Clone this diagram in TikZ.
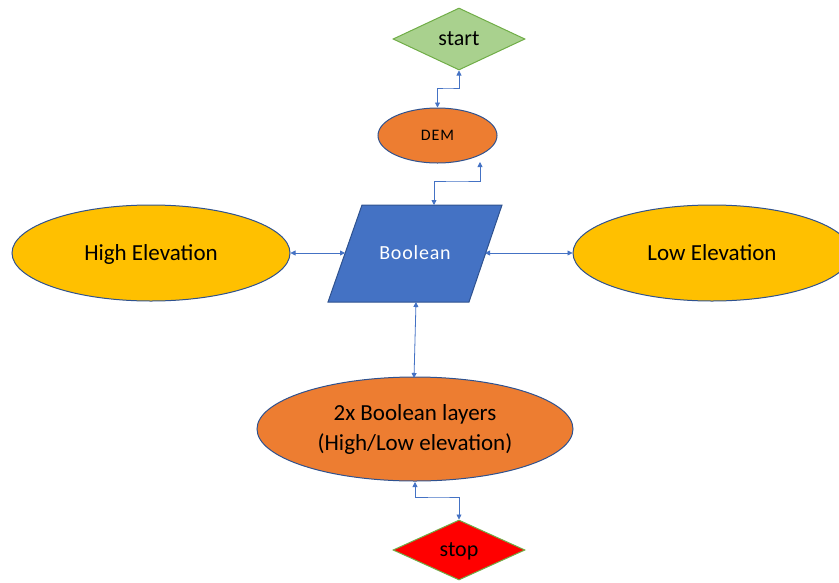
\documentclass[tikz,border=0pt]{standalone}
\usepackage{fontspec}
\setmainfont{Carlito}
\usetikzlibrary{shapes.geometric,arrows.meta}
\definecolor{linkblue}{HTML}{4472C4}
\definecolor{edgeblue}{HTML}{2F528F}
\definecolor{orangefill}{HTML}{ED7D31}
\definecolor{goldfill}{HTML}{FFC000}
\definecolor{lightgreen}{HTML}{A9D18E}
\definecolor{greenedge}{HTML}{70AD47}
\begin{document}
\begin{tikzpicture}[x=1pt,y=-1pt,
  termbox/.style={diamond,draw=greenedge,line width=1pt,minimum width=132pt,minimum height=62pt,inner sep=0pt,text depth=0pt,font=\fontsize{22}{24}\selectfont},
  ovalbox/.style={ellipse,draw=edgeblue,line width=1pt,inner sep=0pt},
  link/.style={draw=linkblue,line width=0.8pt,{Triangle[width=5pt,length=5pt]}-{Triangle[width=5pt,length=5pt]}}
]
\useasboundingbox (0,0) rectangle (839,582);

% terminal diamonds
\node[termbox,fill=lightgreen] (start) at (459,39) {start};
\node[termbox,fill=red,minimum height=60pt] (stop) at (459,550) {stop};

% ellipses
\node[ovalbox,fill=orangefill,minimum width=119pt,minimum height=55pt,text depth=0pt,font=\fontsize{16}{18}\selectfont\addfontfeature{LetterSpace=6}] (dem) at (437.5,135.5) {DEM};
\node[ovalbox,fill=goldfill,minimum width=278pt,minimum height=96pt,text depth=0pt,font=\fontsize{23}{26}\selectfont] (high) at (151,253) {High Elevation};
\node[ovalbox,fill=goldfill,minimum width=278pt,minimum height=96pt,text depth=0pt,font=\fontsize{23}{26}\selectfont] (low) at (712,253) {Low Elevation};
\node[ovalbox,fill=orangefill,minimum width=316pt,minimum height=104pt,align=center,font=\fontsize{23}{30}\selectfont] (layers) at (415,429) {2x Boolean layers\\(High/Low elevation)};

% data parallelogram
\path[draw=edgeblue,line width=1pt,fill=linkblue] (362,205) -- (502,205) -- (469,302) -- (328,302) -- cycle;
\node[text=white,text depth=0pt,font=\fontsize{20}{22}\selectfont\addfontfeature{LetterSpace=4}] (bool) at (415,253) {Boolean};
\coordinate (boolT) at (434,205);
\coordinate (boolB) at (416,302);
\coordinate (boolL) at (345,253);
\coordinate (boolR) at (485,253);

% connectors
\draw[link] (start.south) |- (448,88) -| (dem.north);
\draw[link] (480,162) |- (457,181) -| (boolT);
\draw[link] (high.east) -- (boolL);
\draw[link] (boolR) -- (low.west);
\draw[link] (boolB) -- (415,340) -- (414,378);
\draw[link] (415,482) |- (440,497) -| (stop.north);
\end{tikzpicture}
\end{document}
